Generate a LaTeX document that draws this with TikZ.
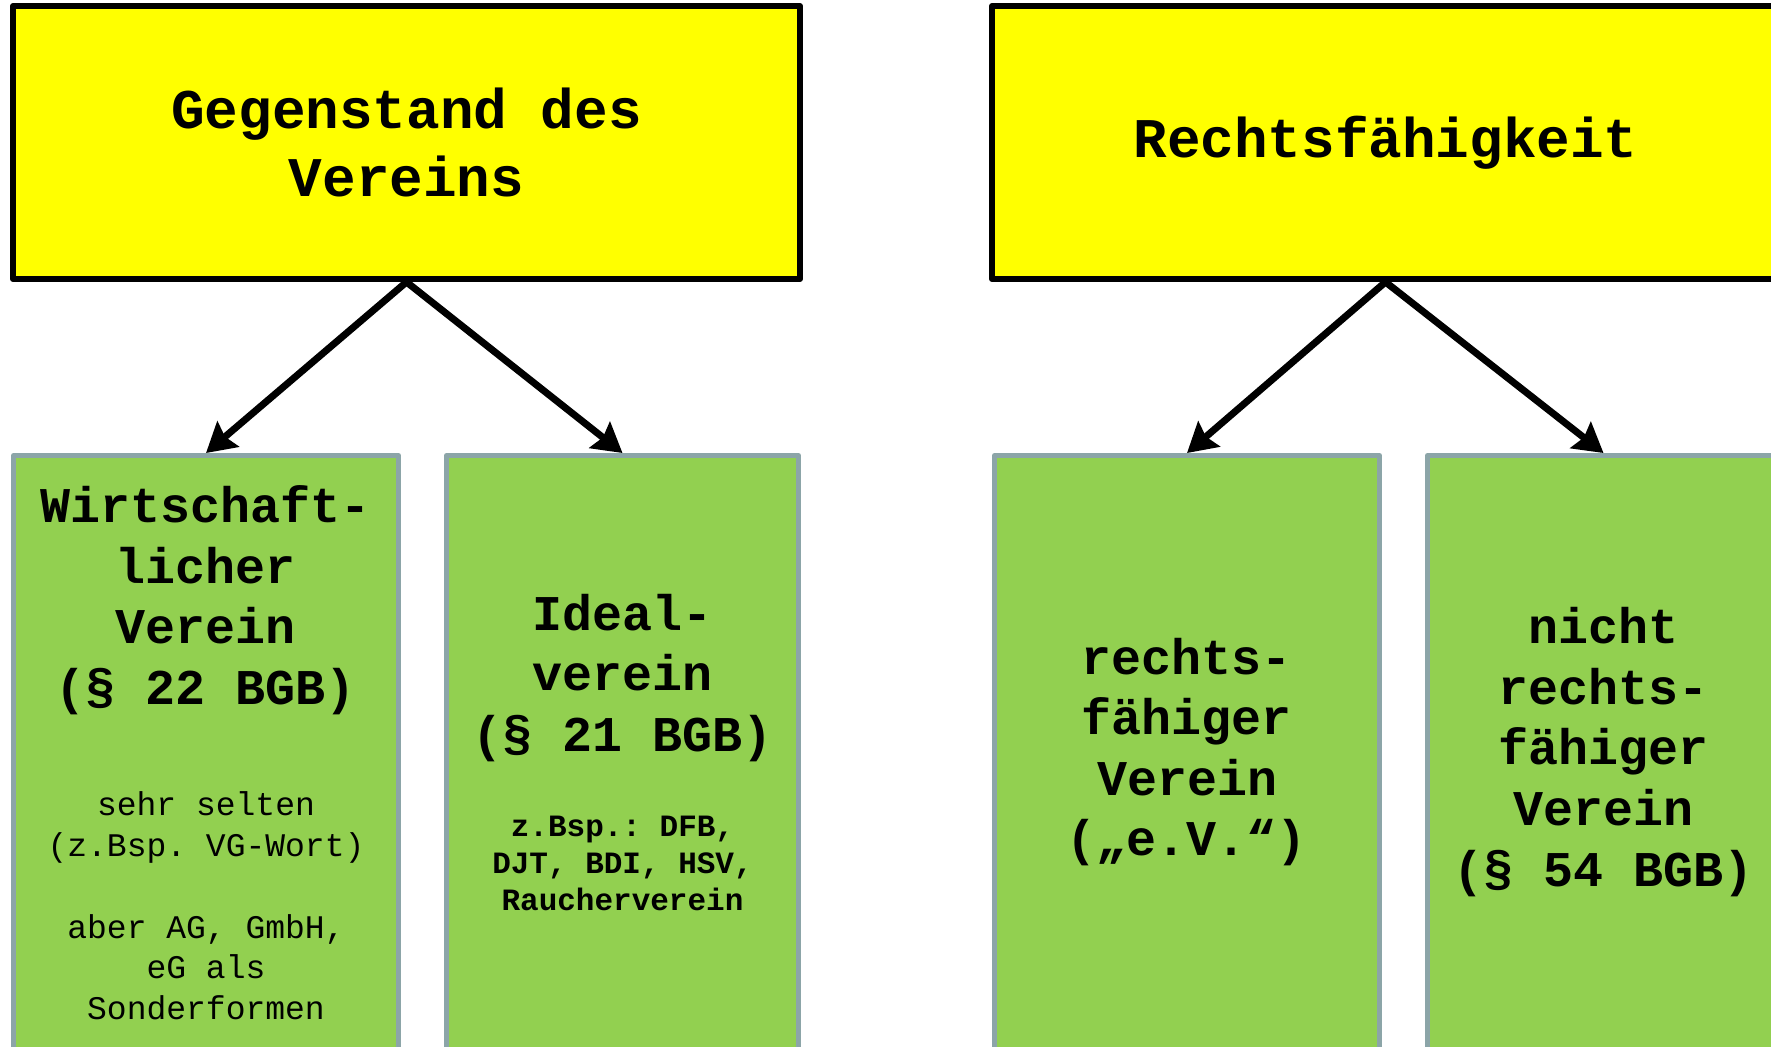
\documentclass[tikz,border=0pt]{standalone}
\usepackage{fontspec}
\setmonofont{Liberation Mono}
\usetikzlibrary{arrows.meta}

\definecolor{headfill}{RGB}{255,255,0}
\definecolor{leaffill}{RGB}{146,208,80}
\definecolor{leafedge}{RGB}{140,165,168}

\tikzset{
  headbox/.style={draw=black, line width=3pt, line join=round, fill=headfill,
    inner sep=0pt, minimum width=393.5pt, minimum height=136.5pt,
    align=center, font=\ttfamily\bfseries\fontsize{28}{34}\selectfont},
  leafbox/.style={draw=leafedge, line width=2.5pt, line join=round, fill=leaffill,
    inner sep=0pt, minimum height=322.25pt},
  leafwide/.style={leafbox, minimum width=192.5pt},
  leafslim/.style={leafbox, minimum width=176pt},
  leaftitle/.style={align=center, inner sep=0pt, font=\ttfamily\bfseries\fontsize{25}{30.3}\selectfont},
  leafnote/.style={align=center, inner sep=0pt, font=\ttfamily\fontsize{16.5}{20.4}\selectfont},
  leafnotebold/.style={align=center, inner sep=0pt, font=\ttfamily\bfseries\fontsize{15.5}{18.5}\selectfont},
  branch/.style={line width=3.5pt, -{Stealth[length=14.5pt, width=16.5pt, inset=2pt]}},
}

\begin{document}
\begin{tikzpicture}[x=0.5pt, y=-0.5pt]
  \useasboundingbox (0,0) rectangle (1771,1046);
  \clip (0,0) rectangle (1771,1046);

  % top level categories
  \node[headbox] (gegenstand) at (406.5,142.5) {Gegenstand des\\Vereins};
  \node[headbox] (rechtsf) at (1385.5,142.5) {Rechtsfähigkeit};

  % sub categories (boxes run past the lower edge)
  \node[leafwide] (wirtschaft) at (206,777.75) {};
  \node[leafslim] (ideal) at (622.5,777.75) {};
  \node[leafwide] (ev) at (1187,777.75) {};
  \node[leafslim] (nev) at (1603.5,777.75) {};

  % texts inside the sub categories
  \node[leaftitle] (wirtschafttitle) at (206,600) {Wirtschaft-\\licher\\Verein\\(§ 22 BGB)};
  \node[leafnote] (wirtschaftnote) at (206,906)
    {sehr selten\\(z.Bsp. VG-Wort)\\[20.4pt]aber AG, GmbH,\\eG als\\Sonderformen};
  \node[leaftitle] (idealtitle) at (622.5,678) {Ideal-\\verein\\(§ 21 BGB)};
  \node[leafnotebold] (idealnote) at (622.5,863) {z.Bsp.: DFB,\\DJT, BDI, HSV,\\Raucherverein};
  \node[leaftitle] (evtitle) at (1187,752)
    {rechts-\\fähiger\\Verein\\(„e.V.“)};
  \node[leaftitle] (nevtitle) at (1603.5,752)
    {nicht\\rechts-\\fähiger\\Verein\\(§ 54 BGB)};

  % connectors
  \draw[branch] (gegenstand.south) -- (wirtschaft.north);
  \draw[branch] (gegenstand.south) -- (ideal.north);
  \draw[branch] (rechtsf.south) -- (ev.north);
  \draw[branch] (rechtsf.south) -- (nev.north);
\end{tikzpicture}
\end{document}
